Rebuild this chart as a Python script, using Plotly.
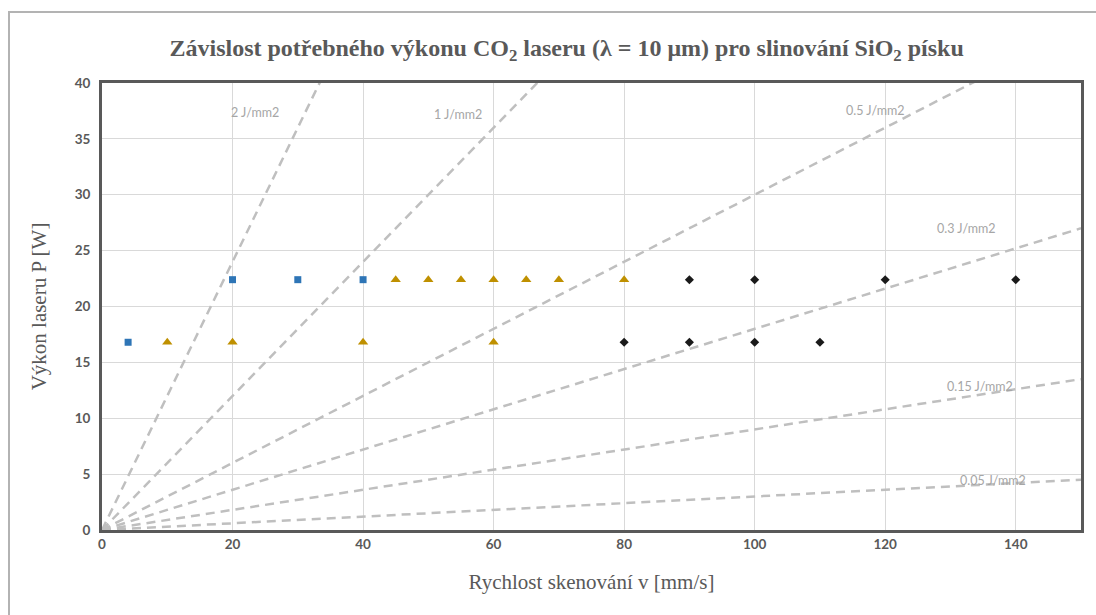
import plotly.graph_objects as go

# --- data ---
blue_v = [4, 20, 30, 40]
blue_p = [16.8, 22.4, 22.4, 22.4]

gold_v = [10, 20, 40, 60, 45, 50, 55, 60, 65, 70, 80]
gold_p = [16.8, 16.8, 16.8, 16.8, 22.4, 22.4, 22.4, 22.4, 22.4, 22.4, 22.4]

black_v = [80, 90, 100, 110, 90, 100, 120, 140]
black_p = [16.8, 16.8, 16.8, 16.8, 22.4, 22.4, 22.4, 22.4]

# energy-density reference lines: from origin to v = 150 mm/s
line_labels = ["2 J/mm2", "1 J/mm2", "0.5 J/mm2", "0.3 J/mm2", "0.15 J/mm2", "0.05 J/mm2"]
line_v = [0, 150]
line_p_end = [180, 90, 45, 27, 13.5, 4.5]
label_x = [23.5, 54.5, 118.5, 132.5, 134.5, 136.5]
label_y = [37.4, 37.2, 37.5, 27.0, 12.8, 4.4]

x_ticks = [0, 20, 40, 60, 80, 100, 120, 140]
y_ticks = [0, 5, 10, 15, 20, 25, 30, 35, 40]

GRAY_TXT = "#595959"

fig = go.Figure()

for pe in line_p_end:
    fig.add_trace(go.Scatter(
        x=line_v, y=[0, pe], mode="lines",
        line=dict(color="#bfbfbf", width=2.5, dash="9px,6px"),
        showlegend=False, hoverinfo="skip"))

fig.add_trace(go.Scatter(x=blue_v, y=blue_p, mode="markers",
                         marker=dict(symbol="square", size=7, color="#2E75B6"),
                         showlegend=False))
fig.add_trace(go.Scatter(x=gold_v, y=gold_p, mode="markers",
                         marker=dict(symbol="triangle-up", size=9, color="#BF9000"),
                         showlegend=False))
fig.add_trace(go.Scatter(x=black_v, y=black_p, mode="markers",
                         marker=dict(symbol="diamond", size=7, color="#1a1a1a"),
                         showlegend=False))

for t, lx, ly in zip(line_labels, label_x, label_y):
    fig.add_annotation(x=lx, y=ly, text=t, showarrow=False,
                       font=dict(family="Lato", size=12.5, color="#a6a6a6"))

fig.add_shape(type="rect", xref="paper", yref="paper",
              x0=-0.095, x1=1.03, y0=-0.25, y1=1.159,
              line=dict(color="#b3b3b3", width=2), layer="below")

fig.update_layout(
    width=1096, height=615,
    margin=dict(l=102, r=15, t=83, b=85),
    paper_bgcolor="white", plot_bgcolor="white",
    title=dict(
        text="Závislost potřebného výkonu CO<sub>2</sub> laseru (λ = 10 μm) pro slinování SiO<sub>2</sub> písku",
        x=0.517, xref="container", y=0.922, yref="container", yanchor="middle",
        font=dict(family="Liberation Serif", size=24, color=GRAY_TXT, weight="bold")),
    xaxis=dict(range=[0, 150], tickvals=x_ticks, showgrid=True, gridcolor="#d9d9d9",
               gridwidth=1, zeroline=False, showline=True, linecolor="#595959",
               linewidth=3, mirror=True, ticks="",
               tickfont=dict(family="Lato", size=13.5, color=GRAY_TXT, weight="bold"),
               title=dict(text="Rychlost skenování v [mm/s]", standoff=24,
                          font=dict(family="Liberation Serif", size=21, color=GRAY_TXT))),
    yaxis=dict(range=[0, 40], tickvals=y_ticks, showgrid=True, gridcolor="#d9d9d9",
               gridwidth=1, zeroline=False, showline=True, linecolor="#595959",
               linewidth=3, mirror=True, ticks="outside", ticklen=6, tickcolor="rgba(0,0,0,0)",
               tickfont=dict(family="Lato", size=13.5, color=GRAY_TXT, weight="bold"),
               title=dict(text="Výkon laseru P [W]", standoff=23,
                          font=dict(family="Liberation Serif", size=21, color=GRAY_TXT))),
)

fig.write_html("out.html", config={"displayModeBar": False},
               post_script="document.body.style.margin='0';document.body.style.padding='0';")
